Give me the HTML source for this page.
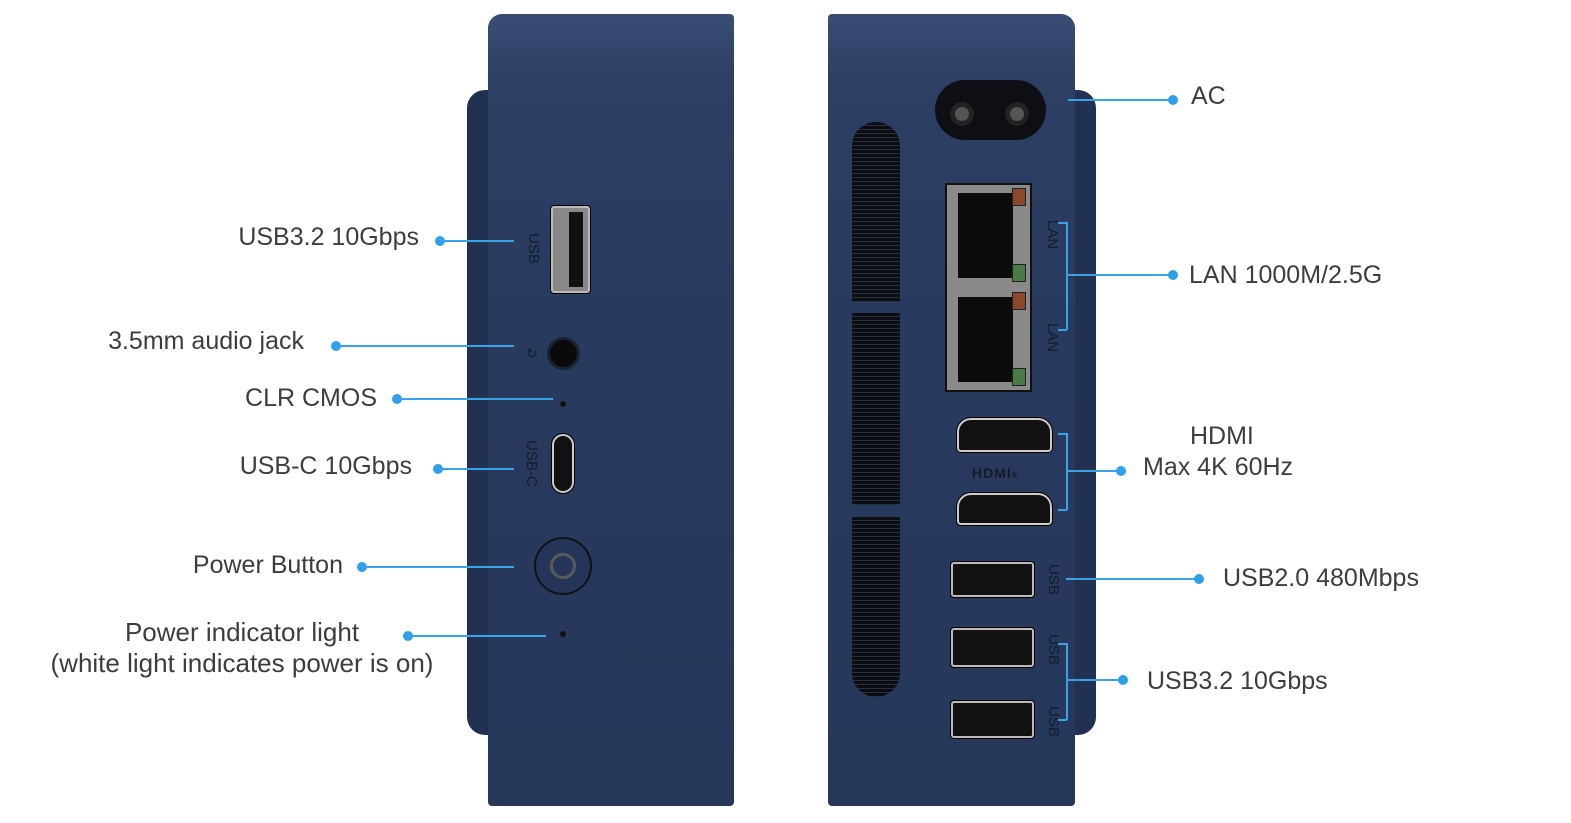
<!DOCTYPE html>
<html><head><meta charset="utf-8"><style>
*{margin:0;padding:0;box-sizing:border-box}
body{width:1571px;height:823px;background:#fff;position:relative;overflow:hidden;font-family:"Liberation Sans",sans-serif;color:#3d3d3d}
.a{position:absolute}
.body{background:linear-gradient(180deg,#3a4d75 0%,#2d3f64 8%,#283a5e 40%,#26375a 100%)}
.fl{background:#223152}
.t{position:absolute;font-size:25px;white-space:nowrap;line-height:1}
.r{text-align:right}
.ln{position:absolute;height:1.5px;background:#3aa3e8}
.vl{position:absolute;width:1.5px;background:#3aa3e8}
.d{position:absolute;width:10px;height:10px;border-radius:50%;background:#2f9fea}
.usb{position:absolute;background:#111;border:2px solid #bbb;border-radius:3px;box-shadow:0 0 0 1px #000}
.rt{position:absolute;font-size:15px;color:#151c2c;transform:rotate(90deg);transform-origin:center;white-space:nowrap}
.vent{position:absolute;left:852px;width:48px;background:repeating-linear-gradient(180deg,#0b0d12 0 3px,#2a2f3c 3px 4px)}
</style></head><body>
<!-- left device -->
<div class="a fl" style="left:467px;top:90px;width:40px;height:645px;border-radius:18px 0 0 18px"></div>
<div class="a body" style="left:488px;top:14px;width:246px;height:792px;border-radius:14px 4px 4px 4px"></div>
<div class="usb" style="left:551px;top:206px;width:39px;height:87px;background:#888"></div>
<div class="a" style="left:569px;top:212px;width:14px;height:75px;background:#111"></div>
<div class="rt" style="left:518px;top:240px">USB</div>
<div class="a" style="left:547px;top:337px;width:33px;height:33px;border-radius:50%;background:#0a0a0a;border:3px solid #1b2233"></div>
<div class="a" style="left:526px;top:345px;font-size:14px;color:#151c2c">↻</div>
<div class="a" style="left:560px;top:401px;width:6px;height:6px;border-radius:50%;background:#111"></div>
<div class="usb" style="left:552px;top:434px;width:22px;height:59px;border-radius:11px;border-color:#ccc"></div>
<div class="rt" style="left:508px;top:455px">USB-C</div>
<div class="a" style="left:534px;top:537px;width:58px;height:58px;border-radius:50%;border:2px solid #111;background:#25355a"></div>
<div class="a" style="left:550px;top:553px;width:26px;height:26px;border-radius:50%;border:3px solid #5a5a5a"></div>
<div class="a" style="left:560px;top:631px;width:6px;height:6px;border-radius:50%;background:#111"></div>
<!-- right device -->
<div class="a fl" style="left:1055px;top:90px;width:41px;height:645px;border-radius:0 18px 18px 0"></div>
<div class="a body" style="left:828px;top:14px;width:247px;height:792px;border-radius:4px 14px 4px 4px"></div>
<div class="vent" style="top:122px;height:180px;border-radius:24px 24px 2px 2px"></div>
<div class="vent" style="top:313px;height:192px;border-radius:2px"></div>
<div class="vent" style="top:517px;height:180px;border-radius:2px 2px 24px 24px"></div>
<div class="a" style="left:935px;top:80px;width:111px;height:60px;border-radius:30px;background:#0d0f14"></div>
<div class="a" style="left:950px;top:102px;width:24px;height:24px;border-radius:50%;background:#555;border:5px solid #222"></div>
<div class="a" style="left:1005px;top:102px;width:24px;height:24px;border-radius:50%;background:#555;border:5px solid #222"></div>
<div class="a" style="left:945px;top:183px;width:87px;height:209px;background:#8a8a8a;border:2px solid #111"></div>
<div class="a" style="left:958px;top:193px;width:55px;height:85px;background:#0c0c0c"></div>
<div class="a" style="left:958px;top:297px;width:55px;height:85px;background:#0c0c0c"></div>
<div class="a" style="left:1012px;top:188px;width:14px;height:18px;background:#8a4a2a;border:1px solid #222"></div>
<div class="a" style="left:1012px;top:264px;width:14px;height:18px;background:#4a7a4a;border:1px solid #222"></div>
<div class="a" style="left:1012px;top:292px;width:14px;height:18px;background:#8a4a2a;border:1px solid #222"></div>
<div class="a" style="left:1012px;top:368px;width:14px;height:18px;background:#4a7a4a;border:1px solid #222"></div>
<div class="rt" style="left:1038px;top:226px">LAN</div>
<div class="rt" style="left:1038px;top:329px">LAN</div>
<div class="usb" style="left:957px;top:418px;width:95px;height:34px;border-radius:14px 14px 4px 4px;border-color:#ccc"></div>
<div class="usb" style="left:957px;top:493px;width:95px;height:32px;border-radius:14px 14px 4px 4px;border-color:#ccc"></div>
<div class="a" style="left:972px;top:465px;font-size:14px;font-weight:bold;color:#161b26;letter-spacing:1px">HDMI<span style="font-size:8px">®</span></div>
<div class="usb" style="left:951px;top:562px;width:83px;height:35px"></div>
<div class="usb" style="left:951px;top:628px;width:83px;height:39px"></div>
<div class="usb" style="left:951px;top:701px;width:83px;height:37px"></div>
<div class="rt" style="left:1038px;top:571px">USB</div>
<div class="rt" style="left:1038px;top:641px">USB</div>
<div class="rt" style="left:1038px;top:713px">USB</div>
<!-- left labels -->
<div class="t r" style="right:1152px;top:225px">USB3.2 10Gbps</div>
<div class="d" style="left:435px;top:236px"></div><div class="ln" style="left:440px;top:240px;width:74px"></div>
<div class="t r" style="right:1267px;top:329px">3.5mm audio jack</div>
<div class="d" style="left:331px;top:341px"></div><div class="ln" style="left:336px;top:345px;width:178px"></div>
<div class="t r" style="right:1194px;top:386px">CLR CMOS</div>
<div class="d" style="left:392px;top:394px"></div><div class="ln" style="left:397px;top:398px;width:156px"></div>
<div class="t r" style="right:1159px;top:454px">USB-C 10Gbps</div>
<div class="d" style="left:433px;top:464px"></div><div class="ln" style="left:438px;top:468px;width:76px"></div>
<div class="t r" style="right:1228px;top:553px">Power Button</div>
<div class="d" style="left:357px;top:562px"></div><div class="ln" style="left:362px;top:566px;width:152px"></div>
<div class="t" style="left:0;width:484px;text-align:center;top:619px;font-size:26px">Power indicator light</div>
<div class="t" style="left:0;width:484px;text-align:center;top:650px;font-size:26px">(white light indicates power is on)</div>
<div class="d" style="left:403px;top:631px"></div><div class="ln" style="left:408px;top:635px;width:138px"></div>
<!-- right labels -->
<div class="ln" style="left:1068px;top:99px;width:105px"></div><div class="d" style="left:1168px;top:95px"></div>
<div class="t" style="left:1191px;top:84px">AC</div>
<div class="vl" style="left:1066px;top:222px;height:108px"></div>
<div class="ln" style="left:1058px;top:222px;width:9px"></div><div class="ln" style="left:1058px;top:329px;width:9px"></div>
<div class="ln" style="left:1066px;top:274px;width:107px"></div><div class="d" style="left:1168px;top:270px"></div>
<div class="t" style="left:1189px;top:263px">LAN 1000M/2.5G</div>
<div class="vl" style="left:1066px;top:433px;height:77px"></div>
<div class="ln" style="left:1058px;top:433px;width:9px"></div><div class="ln" style="left:1058px;top:509px;width:9px"></div>
<div class="ln" style="left:1066px;top:470px;width:55px"></div><div class="d" style="left:1116px;top:466px"></div>
<div class="t" style="left:1190px;top:424px">HDMI</div>
<div class="t" style="left:1143px;top:455px">Max 4K 60Hz</div>
<div class="ln" style="left:1066px;top:578px;width:133px"></div><div class="d" style="left:1194px;top:574px"></div>
<div class="t" style="left:1223px;top:566px">USB2.0 480Mbps</div>
<div class="vl" style="left:1066px;top:643px;height:77px"></div>
<div class="ln" style="left:1058px;top:643px;width:9px"></div><div class="ln" style="left:1058px;top:719px;width:9px"></div>
<div class="ln" style="left:1066px;top:679px;width:57px"></div><div class="d" style="left:1118px;top:675px"></div>
<div class="t" style="left:1147px;top:669px">USB3.2 10Gbps</div>
</body></html>
